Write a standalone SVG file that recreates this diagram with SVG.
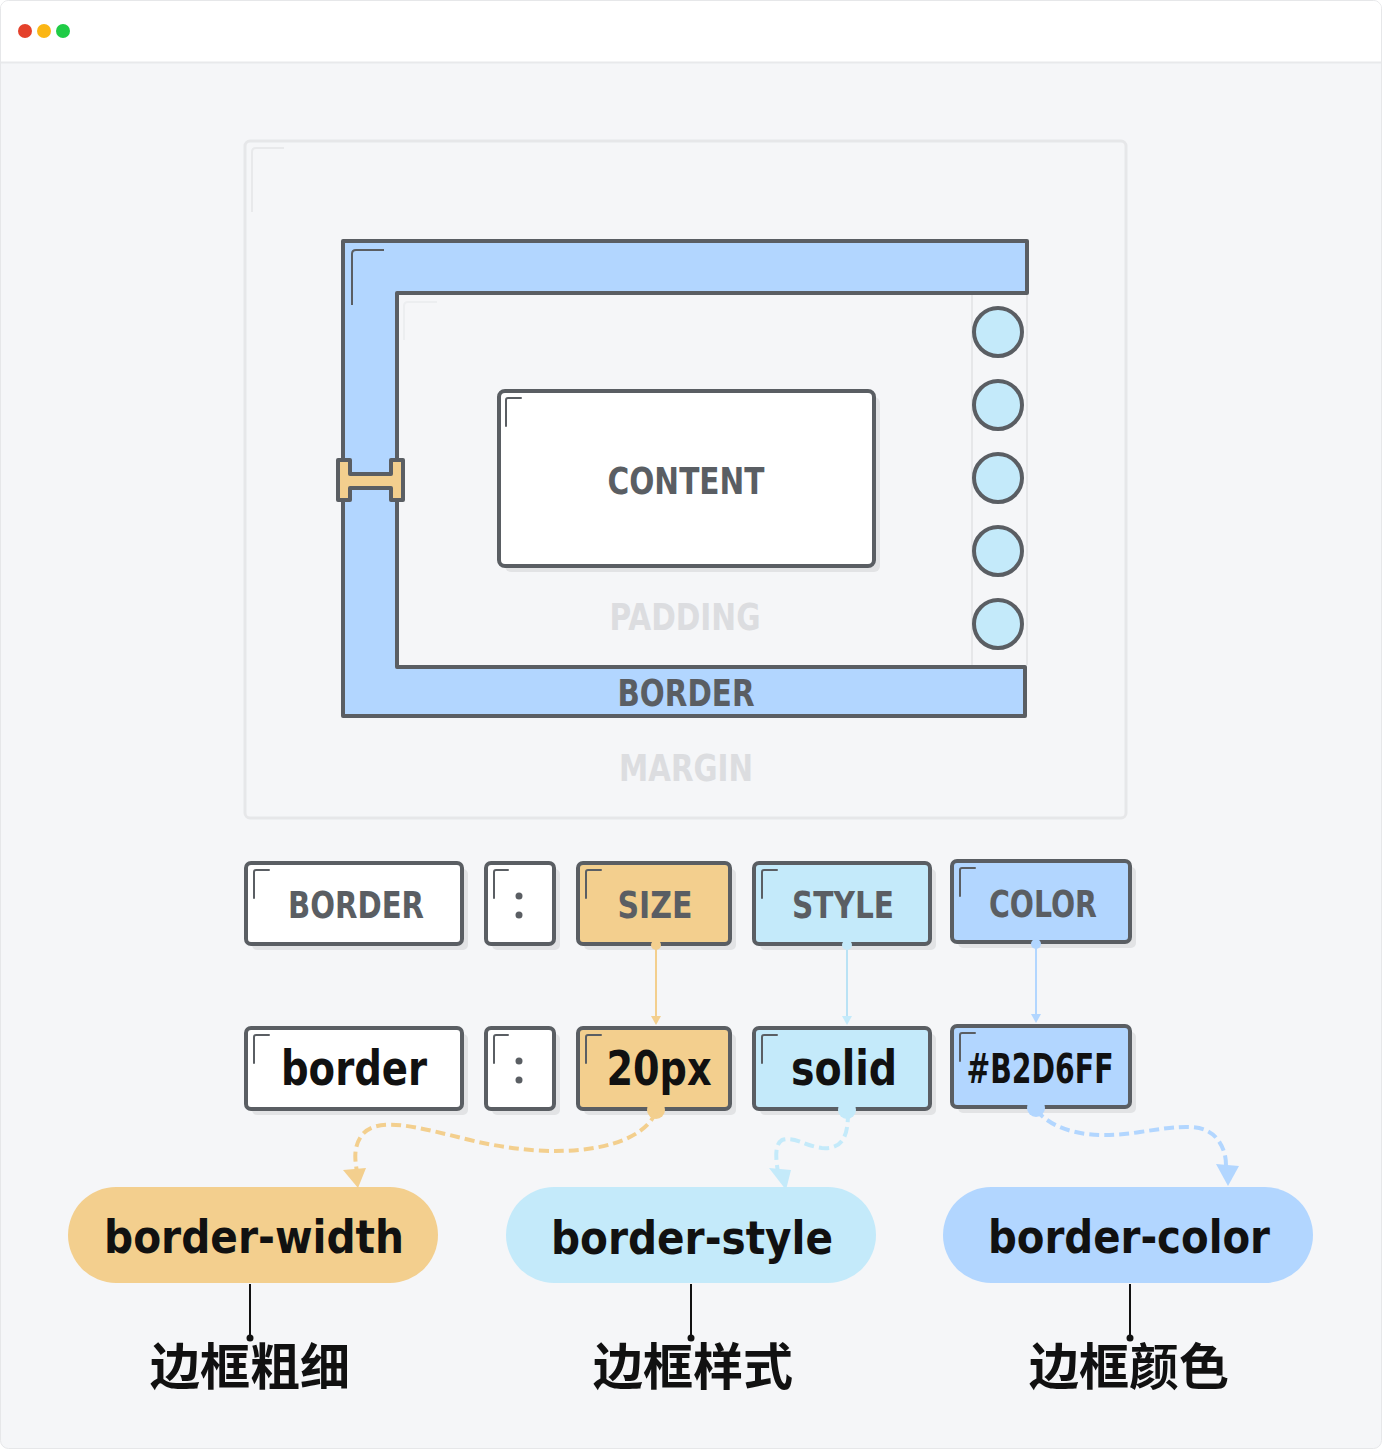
<svg xmlns="http://www.w3.org/2000/svg" width="1382" height="1449" viewBox="0 0 1382 1449">
<style>
.lbl{font-family:"DejaVu Sans Condensed","DejaVu Sans","Liberation Sans",sans-serif;font-weight:bold;fill:#5a5e63;text-anchor:middle}
.faint{fill:#dcdde0}
.code{font-family:"DejaVu Sans Condensed","DejaVu Sans","Liberation Sans",sans-serif;font-weight:bold;fill:#111;text-anchor:middle}
.zh{font-family:"Noto Sans CJK SC","Noto Sans CJK TC",sans-serif;font-weight:bold;fill:#111;text-anchor:middle;font-size:50px}
.box{stroke:#5a5e63;stroke-width:4}
.shadow{fill:#e2e3e5}
.mark{fill:none;stroke:#5a5e63;stroke-width:2;stroke-linecap:round}
</style>
<!-- window -->
<rect x="0.5" y="0.5" width="1381" height="1448" rx="8" fill="#f5f6f8" stroke="#e6e7e9"/>
<path d="M1,62 V9 Q1,1 9,1 H1373 Q1381,1 1381,9 V62 Z" fill="#ffffff"/>
<line x1="1" y1="62.5" x2="1381" y2="62.5" stroke="#e8e9eb" stroke-width="2"/>
<circle cx="25" cy="31" r="7" fill="#e4412b"/>
<circle cx="44" cy="31" r="7" fill="#fbb614"/>
<circle cx="63" cy="31" r="7" fill="#1fcc46"/>

<g id="margin-box">
<rect x="245" y="141" width="881" height="677" rx="5" fill="#f5f6f8" stroke="#e6e7e9" stroke-width="3"/>
<path d="M252,212 V152 Q252,148 256,148 H284" fill="none" stroke="#e8e9eb" stroke-width="2"/>
<text class="lbl faint" x="686" y="781" font-size="37" textLength="134" lengthAdjust="spacingAndGlyphs">MARGIN</text>
</g>

<g id="border-box">
<path d="M343,241 H1027 V293 H397 V667 H1025 V716 H343 Z" fill="#b2d6ff" stroke="#5a5e63" stroke-width="4" stroke-linejoin="round"/>
<path d="M352,305 V254 Q352,250 356,250 H384" fill="none" stroke="#5a5e63" stroke-width="2"/>
<text class="lbl" x="686" y="706" font-size="37" textLength="137" lengthAdjust="spacingAndGlyphs">BORDER</text>
</g>

<g id="padding-box">
<line x1="972" y1="295" x2="972" y2="665" stroke="#e6e7e9" stroke-width="2"/>
<line x1="1027" y1="295" x2="1027" y2="665" stroke="#e6e7e9" stroke-width="2"/>
<path d="M404,340 V306 Q404,302 408,302 H437" fill="none" stroke="#eceef0" stroke-width="2"/>
<text class="lbl faint" x="685" y="630" font-size="37" textLength="151" lengthAdjust="spacingAndGlyphs">PADDING</text>
</g>

<g id="dots">
<g fill="#c4eafa" stroke="#5a5e63" stroke-width="4">
<circle cx="998" cy="332" r="24"/>
<circle cx="998" cy="405" r="24"/>
<circle cx="998" cy="478" r="24"/>
<circle cx="998" cy="551" r="24"/>
<circle cx="998" cy="624" r="24"/>
</g>
</g>

<g id="width-indicator">
<path d="M338,460 H350 V474 H391 V460 H403 V500 H391 V488 H350 V500 H338 Z" fill="#f3cf8e" stroke="#5a5e63" stroke-width="4" stroke-linejoin="round"/>
</g>

<g id="content-box">
<rect x="505" y="397" width="375" height="175" rx="6" class="shadow"/>
<rect x="499" y="391" width="375" height="175" rx="6" fill="#ffffff" class="box"/>
<path d="M506,426 V400 Q506,398 508,398 H521" class="mark"/>
<text class="lbl" x="686" y="494" font-size="38" textLength="157" lengthAdjust="spacingAndGlyphs">CONTENT</text>
</g>

<!-- row 1 -->
<g id="k-border">
<rect x="252" y="869" width="216" height="81" rx="5" class="shadow"/>
<rect x="246" y="863" width="216" height="81" rx="5" fill="#fff" class="box"/>
<path d="M254,898 V872 Q254,870 256,870 H269" class="mark"/>
<text class="lbl" x="356" y="918" font-size="38" textLength="136" lengthAdjust="spacingAndGlyphs">BORDER</text>
</g>
<g id="k-colon">
<rect x="492" y="869" width="68" height="81" rx="5" class="shadow"/>
<rect x="486" y="863" width="68" height="81" rx="5" fill="#fff" class="box"/>
<path d="M494,898 V872 Q494,870 496,870 H508" class="mark"/>
<circle cx="519" cy="896" r="3.5" fill="#5a5e63"/>
<circle cx="519" cy="915" r="3.5" fill="#5a5e63"/>
</g>
<g id="k-size">
<rect x="584" y="869" width="152" height="81" rx="5" class="shadow"/>
<rect x="578" y="863" width="152" height="81" rx="5" fill="#f3cf8e" class="box"/>
<path d="M586,898 V872 Q586,870 588,870 H601" class="mark"/>
<text class="lbl" x="655" y="918" font-size="38" textLength="75" lengthAdjust="spacingAndGlyphs">SIZE</text>
</g>
<g id="k-style">
<rect x="760" y="869" width="176" height="81" rx="5" class="shadow"/>
<rect x="754" y="863" width="176" height="81" rx="5" fill="#c4eafa" class="box"/>
<path d="M762,898 V872 Q762,870 764,870 H777" class="mark"/>
<text class="lbl" x="843" y="918" font-size="38" textLength="102" lengthAdjust="spacingAndGlyphs">STYLE</text>
</g>
<g id="k-color">
<rect x="958" y="867" width="178" height="81" rx="5" class="shadow"/>
<rect x="952" y="861" width="178" height="81" rx="5" fill="#b2d6ff" class="box"/>
<path d="M960,896 V870 Q960,868 962,868 H975" class="mark"/>
<text class="lbl" x="1043" y="917" font-size="38" textLength="108" lengthAdjust="spacingAndGlyphs">COLOR</text>
</g>

<!-- row 2 -->
<g id="v-border">
<rect x="252" y="1034" width="216" height="81" rx="5" class="shadow"/>
<rect x="246" y="1028" width="216" height="81" rx="5" fill="#fff" class="box"/>
<path d="M254,1063 V1037 Q254,1035 256,1035 H269" class="mark"/>
<text class="code" x="354" y="1085" font-size="48" textLength="146" lengthAdjust="spacingAndGlyphs">border</text>
</g>
<g id="v-colon">
<rect x="492" y="1034" width="68" height="81" rx="5" class="shadow"/>
<rect x="486" y="1028" width="68" height="81" rx="5" fill="#fff" class="box"/>
<path d="M494,1063 V1037 Q494,1035 496,1035 H508" class="mark"/>
<circle cx="519" cy="1061" r="3.5" fill="#5a5e63"/>
<circle cx="519" cy="1080" r="3.5" fill="#5a5e63"/>
</g>
<g id="v-size">
<rect x="584" y="1034" width="152" height="81" rx="5" class="shadow"/>
<rect x="578" y="1028" width="152" height="81" rx="5" fill="#f3cf8e" class="box"/>
<path d="M586,1063 V1037 Q586,1035 588,1035 H601" class="mark"/>
<text class="code" x="659" y="1085" font-size="48" textLength="105" lengthAdjust="spacingAndGlyphs">20px</text>
</g>
<g id="v-style">
<rect x="760" y="1034" width="176" height="81" rx="5" class="shadow"/>
<rect x="754" y="1028" width="176" height="81" rx="5" fill="#c4eafa" class="box"/>
<path d="M762,1063 V1037 Q762,1035 764,1035 H777" class="mark"/>
<text class="code" x="844" y="1085" font-size="48" textLength="106" lengthAdjust="spacingAndGlyphs">solid</text>
</g>
<g id="v-color">
<rect x="958" y="1032" width="178" height="81" rx="5" class="shadow"/>
<rect x="952" y="1026" width="178" height="81" rx="5" fill="#b2d6ff" class="box"/>
<path d="M960,1061 V1035 Q960,1033 962,1033 H975" class="mark"/>
<text class="code" x="1040" y="1083" font-size="40" textLength="147" lengthAdjust="spacingAndGlyphs">#B2D6FF</text>
</g>

<!-- pills -->
<g id="p-width">
<rect x="68" y="1187" width="370" height="96" rx="48" fill="#f3cf8e"/>
<text class="code" x="254" y="1253" font-size="46" textLength="300" lengthAdjust="spacingAndGlyphs">border-width</text>
</g>
<g id="p-style">
<rect x="506" y="1187" width="370" height="96" rx="48" fill="#c4eafa"/>
<text class="code" x="692" y="1254" font-size="46" textLength="282" lengthAdjust="spacingAndGlyphs">border-style</text>
</g>
<g id="p-color">
<rect x="943" y="1187" width="370" height="96" rx="48" fill="#b2d6ff"/>
<text class="code" x="1129" y="1253" font-size="46" textLength="282" lengthAdjust="spacingAndGlyphs">border-color</text>
</g>

<g id="zh-labels">
<text class="zh" x="250" y="1385">边框粗细</text>
<text class="zh" x="693" y="1385">边框样式</text>
<text class="zh" x="1129" y="1385">边框颜色</text>
</g>

<g id="connectors">
<!-- row1 to row2 -->
<line x1="656" y1="945" x2="656" y2="1018" stroke="#f3cf8e" stroke-width="2"/>
<circle cx="656" cy="945" r="5" fill="#f3cf8e"/>
<path d="M651,1016 L661,1016 L656,1025 Z" fill="#f3cf8e"/>
<line x1="847" y1="945" x2="847" y2="1018" stroke="#b9e2f5" stroke-width="2"/>
<circle cx="847" cy="945" r="5" fill="#c4eafa"/>
<path d="M842,1016 L852,1016 L847,1025 Z" fill="#c4eafa"/>
<line x1="1036" y1="944" x2="1036" y2="1016" stroke="#b2d6ff" stroke-width="2"/>
<circle cx="1036" cy="944" r="5" fill="#b2d6ff"/>
<path d="M1031,1014 L1041,1014 L1036,1023 Z" fill="#b2d6ff"/>

<!-- row2 to pills -->
<circle cx="656" cy="1110" r="9" fill="#f3cf8e"/>
<path d="M656,1112 C640,1150 560,1162 470,1140 C420,1128 378,1115 362,1135 C353,1147 355,1160 357,1172" fill="none" stroke="#f3cf8e" stroke-width="4" stroke-dasharray="10,5"/>
<path d="M343,1170 L366,1168 L358,1188 Z" fill="#f3cf8e"/>

<circle cx="847" cy="1110" r="9" fill="#c4eafa"/>
<path d="M848,1112 C848,1130 846,1150 822,1148 C805,1146 795,1136 782,1140 C774,1145 776,1160 778,1172" fill="none" stroke="#c4eafa" stroke-width="4" stroke-dasharray="10,5"/>
<path d="M769,1168 L791,1170 L786,1190 Z" fill="#c4eafa"/>

<circle cx="1036" cy="1108" r="9" fill="#b2d6ff"/>
<path d="M1036,1110 C1055,1132 1090,1140 1140,1132 C1180,1126 1205,1122 1218,1140 C1225,1150 1226,1158 1226,1166" fill="none" stroke="#b2d6ff" stroke-width="4" stroke-dasharray="10,5"/>
<path d="M1216,1164 L1239,1166 L1228,1186 Z" fill="#b2d6ff"/>

<!-- pills to Chinese labels -->
<line x1="250" y1="1284" x2="250" y2="1338" stroke="#111" stroke-width="2"/>
<circle cx="250" cy="1338" r="3.5" fill="#111"/>
<line x1="691" y1="1284" x2="691" y2="1338" stroke="#111" stroke-width="2"/>
<circle cx="691" cy="1338" r="3.5" fill="#111"/>
<line x1="1130" y1="1284" x2="1130" y2="1338" stroke="#111" stroke-width="2"/>
<circle cx="1130" cy="1338" r="3.5" fill="#111"/>
</g>
</svg>
